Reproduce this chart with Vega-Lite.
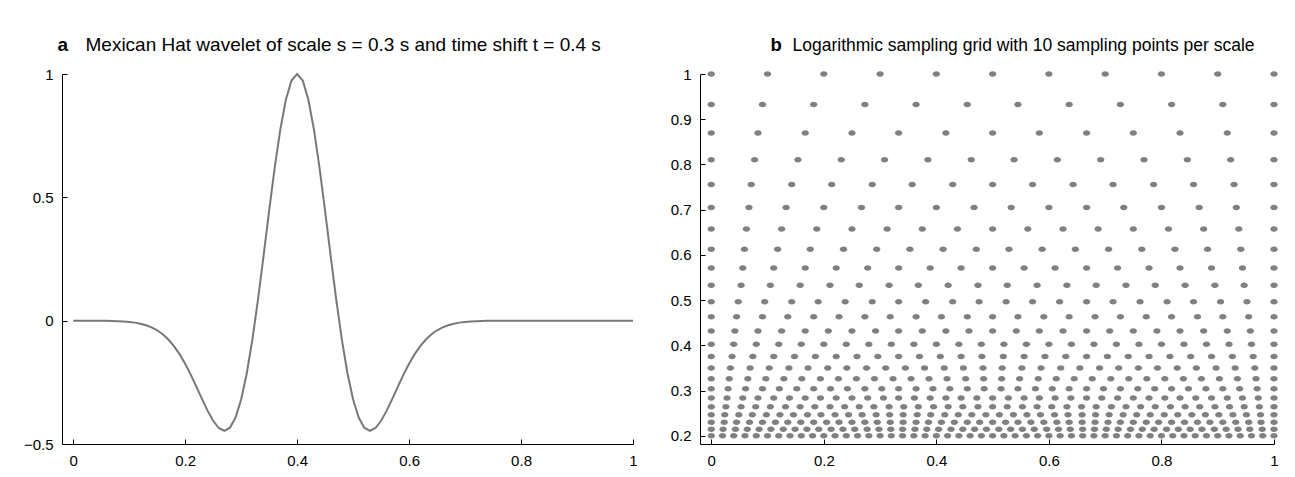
{
"$schema":"https://vega.github.io/schema/vega-lite/v6.json",
"background":"white",
"padding":{"left":23,"top":35,"right":5,"bottom":5},
"spacing":32,
"config":{
"view":{"stroke":null},
"font":"Liberation Sans",
"axis":{"grid":false,"domainColor":"black","domainWidth":1,"tickColor":"black","tickWidth":1,"tickSize":-5,"labelPadding":14,"labelFont":"Liberation Sans","labelFontSize":15,"labelColor":"black","labelFlush":false,"labelOverlap":false,"titleFont":"Liberation Sans","titleFontSize":19,"titleColor":"black","titleBaseline":"alphabetic","titleAlign":"left","titleAngle":0}
},
"hconcat":[
{
"width":571,"height":370,
"data":{"name":"wave"},
"mark":{"type":"line","color":"#787878","strokeWidth":2},
"encoding":{
"x":{"field":"t","type":"quantitative","scale":{"domain":[-0.02,1],"nice":false,"zero":false},"axis":{"values":[0,0.2,0.4,0.6,0.8,1],"format":"~g","title":"Mexican Hat wavelet of scale s = 0.3 s and time shift t = 0.4 s","titleFontWeight":"normal","titleX":23,"titleY":-394}},
"y":{"field":"v","type":"quantitative","scale":{"domain":[-0.5,1],"nice":false,"zero":false},"axis":{"values":[-0.5,0,0.5,1],"format":"~g","title":"a","titleFontWeight":"bold","titleX":-5,"titleY":-24}}
}
},
{
"width":574,"height":370,
"data":{"name":"grid"},
"mark":{"type":"point","filled":true,"color":"#808080","opacity":1,"size":54,"shape":"M-1,0A1,0.75,0,1,0,1,0A1,0.75,0,1,0,-1,0Z"},
"encoding":{
"x":{"field":"x","type":"quantitative","scale":{"domain":[-0.02,1],"nice":false,"zero":false},"axis":{"values":[0,0.2,0.4,0.6,0.8,1],"format":"~g","title":"Logarithmic sampling grid with 10 sampling points per scale","titleFontWeight":"normal","titleFontSize":17.5,"titleX":92,"titleY":-394}},
"y":{"field":"y","type":"quantitative","scale":{"domain":[0.182,1],"nice":false,"zero":false},"axis":{"values":[0.2,0.3,0.4,0.5,0.6,0.7,0.8,0.9,1],"format":"~g","title":"b","titleFontWeight":"bold","titleFontSize":18.5,"titleX":70,"titleY":-24}}
}
}
],
"datasets":{
"wave":[
{"t":0,"v":0},{"t":0.01,"v":0},{"t":0.02,"v":-0.0001},{"t":0.03,"v":-0.0001},{"t":0.04,"v":-0.0002},{"t":0.05,"v":-0.0004},{"t":0.06,"v":-0.0007},{"t":0.07,"v":-0.0012},{"t":0.08,"v":-0.0019},{"t":0.09,"v":-0.0031},
{"t":0.1,"v":-0.005},{"t":0.11,"v":-0.0079},{"t":0.12,"v":-0.0122},{"t":0.13,"v":-0.0184},{"t":0.14,"v":-0.0271},{"t":0.15,"v":-0.0391},{"t":0.16,"v":-0.0553},{"t":0.17,"v":-0.0763},{"t":0.18,"v":-0.103},{"t":0.19,"v":-0.1357},
{"t":0.2,"v":-0.1746},{"t":0.21,"v":-0.2189},{"t":0.22,"v":-0.2672},{"t":0.23,"v":-0.317},{"t":0.24,"v":-0.3648},{"t":0.25,"v":-0.406},{"t":0.26,"v":-0.4351},{"t":0.27,"v":-0.4463},{"t":0.28,"v":-0.4337},{"t":0.29,"v":-0.3926},
{"t":0.3,"v":-0.3198},{"t":0.31,"v":-0.2142},{"t":0.32,"v":-0.078},{"t":0.33,"v":0.0834},{"t":0.34,"v":0.2614},{"t":0.35,"v":0.4449},{"t":0.36,"v":0.6207},{"t":0.37,"v":0.7754},{"t":0.38,"v":0.8964},{"t":0.39,"v":0.9735},
{"t":0.4,"v":1},{"t":0.41,"v":0.9735},{"t":0.42,"v":0.8964},{"t":0.43,"v":0.7754},{"t":0.44,"v":0.6207},{"t":0.45,"v":0.4449},{"t":0.46,"v":0.2614},{"t":0.47,"v":0.0834},{"t":0.48,"v":-0.078},{"t":0.49,"v":-0.2142},
{"t":0.5,"v":-0.3198},{"t":0.51,"v":-0.3926},{"t":0.52,"v":-0.4337},{"t":0.53,"v":-0.4463},{"t":0.54,"v":-0.4351},{"t":0.55,"v":-0.406},{"t":0.56,"v":-0.3648},{"t":0.57,"v":-0.317},{"t":0.58,"v":-0.2672},{"t":0.59,"v":-0.2189},
{"t":0.6,"v":-0.1746},{"t":0.61,"v":-0.1357},{"t":0.62,"v":-0.103},{"t":0.63,"v":-0.0763},{"t":0.64,"v":-0.0553},{"t":0.65,"v":-0.0391},{"t":0.66,"v":-0.0271},{"t":0.67,"v":-0.0184},{"t":0.68,"v":-0.0122},{"t":0.69,"v":-0.0079},
{"t":0.7,"v":-0.005},{"t":0.71,"v":-0.0031},{"t":0.72,"v":-0.0019},{"t":0.73,"v":-0.0012},{"t":0.74,"v":-0.0007},{"t":0.75,"v":-0.0004},{"t":0.76,"v":-0.0002},{"t":0.77,"v":-0.0001},{"t":0.78,"v":-0.0001},{"t":0.79,"v":0},
{"t":0.8,"v":0},{"t":0.81,"v":0},{"t":0.82,"v":0},{"t":0.83,"v":0},{"t":0.84,"v":0},{"t":0.85,"v":0},{"t":0.86,"v":0},{"t":0.87,"v":0},{"t":0.88,"v":0},{"t":0.89,"v":0},
{"t":0.9,"v":0},{"t":0.91,"v":0},{"t":0.92,"v":0},{"t":0.93,"v":0},{"t":0.94,"v":0},{"t":0.95,"v":0},{"t":0.96,"v":0},{"t":0.97,"v":0},{"t":0.98,"v":0},{"t":0.99,"v":0},{"t":1,"v":0}
],
"grid":[
{"x":0,"y":1},{"x":0.1,"y":1},{"x":0.2,"y":1},{"x":0.3,"y":1},{"x":0.4,"y":1},{"x":0.5,"y":1},{"x":0.6,"y":1},{"x":0.7,"y":1},{"x":0.8,"y":1},{"x":0.9,"y":1},{"x":1,"y":1},
{"x":0,"y":0.9324},{"x":0.091,"y":0.9324},{"x":0.182,"y":0.9324},{"x":0.273,"y":0.9324},{"x":0.364,"y":0.9324},{"x":0.455,"y":0.9324},{"x":0.545,"y":0.9324},{"x":0.636,"y":0.9324},{"x":0.727,"y":0.9324},{"x":0.818,"y":0.9324},{"x":0.909,"y":0.9324},{"x":1,"y":0.9324},
{"x":0,"y":0.8694},{"x":0.083,"y":0.8694},{"x":0.167,"y":0.8694},{"x":0.25,"y":0.8694},{"x":0.333,"y":0.8694},{"x":0.417,"y":0.8694},{"x":0.5,"y":0.8694},{"x":0.583,"y":0.8694},{"x":0.667,"y":0.8694},{"x":0.75,"y":0.8694},{"x":0.833,"y":0.8694},{"x":0.917,"y":0.8694},{"x":1,"y":0.8694},
{"x":0,"y":0.8106},{"x":0.077,"y":0.8106},{"x":0.154,"y":0.8106},{"x":0.231,"y":0.8106},{"x":0.308,"y":0.8106},{"x":0.385,"y":0.8106},{"x":0.462,"y":0.8106},{"x":0.538,"y":0.8106},{"x":0.615,"y":0.8106},{"x":0.692,"y":0.8106},{"x":0.769,"y":0.8106},{"x":0.846,"y":0.8106},{"x":0.923,"y":0.8106},{"x":1,"y":0.8106},
{"x":0,"y":0.7559},{"x":0.071,"y":0.7559},{"x":0.143,"y":0.7559},{"x":0.214,"y":0.7559},{"x":0.286,"y":0.7559},{"x":0.357,"y":0.7559},{"x":0.429,"y":0.7559},{"x":0.5,"y":0.7559},{"x":0.571,"y":0.7559},{"x":0.643,"y":0.7559},{"x":0.714,"y":0.7559},{"x":0.786,"y":0.7559},{"x":0.857,"y":0.7559},{"x":0.929,"y":0.7559},{"x":1,"y":0.7559},
{"x":0,"y":0.7048},{"x":0.067,"y":0.7048},{"x":0.133,"y":0.7048},{"x":0.2,"y":0.7048},{"x":0.267,"y":0.7048},{"x":0.333,"y":0.7048},{"x":0.4,"y":0.7048},{"x":0.467,"y":0.7048},{"x":0.533,"y":0.7048},{"x":0.6,"y":0.7048},{"x":0.667,"y":0.7048},{"x":0.733,"y":0.7048},{"x":0.8,"y":0.7048},{"x":0.867,"y":0.7048},{"x":0.933,"y":0.7048},{"x":1,"y":0.7048},
{"x":0,"y":0.6571},{"x":0.0625,"y":0.6571},{"x":0.125,"y":0.6571},{"x":0.1875,"y":0.6571},{"x":0.25,"y":0.6571},{"x":0.3125,"y":0.6571},{"x":0.375,"y":0.6571},{"x":0.4375,"y":0.6571},{"x":0.5,"y":0.6571},{"x":0.5625,"y":0.6571},{"x":0.625,"y":0.6571},{"x":0.6875,"y":0.6571},{"x":0.75,"y":0.6571},{"x":0.8125,"y":0.6571},{"x":0.875,"y":0.6571},{"x":0.9375,"y":0.6571},{"x":1,"y":0.6571},
{"x":0,"y":0.6127},{"x":0.059,"y":0.6127},{"x":0.118,"y":0.6127},{"x":0.176,"y":0.6127},{"x":0.235,"y":0.6127},{"x":0.294,"y":0.6127},{"x":0.353,"y":0.6127},{"x":0.412,"y":0.6127},{"x":0.471,"y":0.6127},{"x":0.529,"y":0.6127},{"x":0.588,"y":0.6127},{"x":0.647,"y":0.6127},{"x":0.706,"y":0.6127},{"x":0.765,"y":0.6127},{"x":0.824,"y":0.6127},{"x":0.882,"y":0.6127},{"x":0.941,"y":0.6127},{"x":1,"y":0.6127},
{"x":0,"y":0.5713},{"x":0.056,"y":0.5713},{"x":0.111,"y":0.5713},{"x":0.167,"y":0.5713},{"x":0.222,"y":0.5713},{"x":0.278,"y":0.5713},{"x":0.333,"y":0.5713},{"x":0.389,"y":0.5713},{"x":0.444,"y":0.5713},{"x":0.5,"y":0.5713},{"x":0.556,"y":0.5713},{"x":0.611,"y":0.5713},{"x":0.667,"y":0.5713},{"x":0.722,"y":0.5713},{"x":0.778,"y":0.5713},{"x":0.833,"y":0.5713},{"x":0.889,"y":0.5713},{"x":0.944,"y":0.5713},{"x":1,"y":0.5713},
{"x":0,"y":0.5327},{"x":0.053,"y":0.5327},{"x":0.105,"y":0.5327},{"x":0.158,"y":0.5327},{"x":0.211,"y":0.5327},{"x":0.263,"y":0.5327},{"x":0.316,"y":0.5327},{"x":0.368,"y":0.5327},{"x":0.421,"y":0.5327},{"x":0.474,"y":0.5327},{"x":0.526,"y":0.5327},{"x":0.579,"y":0.5327},{"x":0.632,"y":0.5327},{"x":0.684,"y":0.5327},{"x":0.737,"y":0.5327},{"x":0.789,"y":0.5327},{"x":0.842,"y":0.5327},{"x":0.895,"y":0.5327},{"x":0.947,"y":0.5327},{"x":1,"y":0.5327},
{"x":0,"y":0.4967},{"x":0.048,"y":0.4967},{"x":0.095,"y":0.4967},{"x":0.143,"y":0.4967},{"x":0.19,"y":0.4967},{"x":0.238,"y":0.4967},{"x":0.286,"y":0.4967},{"x":0.333,"y":0.4967},{"x":0.381,"y":0.4967},{"x":0.429,"y":0.4967},{"x":0.476,"y":0.4967},{"x":0.524,"y":0.4967},{"x":0.571,"y":0.4967},{"x":0.619,"y":0.4967},{"x":0.667,"y":0.4967},{"x":0.714,"y":0.4967},{"x":0.762,"y":0.4967},{"x":0.81,"y":0.4967},{"x":0.857,"y":0.4967},{"x":0.905,"y":0.4967},{"x":0.952,"y":0.4967},{"x":1,"y":0.4967},
{"x":0,"y":0.4631},{"x":0.045,"y":0.4631},{"x":0.091,"y":0.4631},{"x":0.136,"y":0.4631},{"x":0.182,"y":0.4631},{"x":0.227,"y":0.4631},{"x":0.273,"y":0.4631},{"x":0.318,"y":0.4631},{"x":0.364,"y":0.4631},{"x":0.409,"y":0.4631},{"x":0.455,"y":0.4631},{"x":0.5,"y":0.4631},{"x":0.545,"y":0.4631},{"x":0.591,"y":0.4631},{"x":0.636,"y":0.4631},{"x":0.682,"y":0.4631},{"x":0.727,"y":0.4631},{"x":0.773,"y":0.4631},{"x":0.818,"y":0.4631},{"x":0.864,"y":0.4631},{"x":0.909,"y":0.4631},{"x":0.955,"y":0.4631},{"x":1,"y":0.4631},
{"x":0,"y":0.4318},{"x":0.042,"y":0.4318},{"x":0.083,"y":0.4318},{"x":0.125,"y":0.4318},{"x":0.167,"y":0.4318},{"x":0.208,"y":0.4318},{"x":0.25,"y":0.4318},{"x":0.292,"y":0.4318},{"x":0.333,"y":0.4318},{"x":0.375,"y":0.4318},{"x":0.417,"y":0.4318},{"x":0.458,"y":0.4318},{"x":0.5,"y":0.4318},{"x":0.542,"y":0.4318},{"x":0.583,"y":0.4318},{"x":0.625,"y":0.4318},{"x":0.667,"y":0.4318},{"x":0.708,"y":0.4318},{"x":0.75,"y":0.4318},{"x":0.792,"y":0.4318},{"x":0.833,"y":0.4318},{"x":0.875,"y":0.4318},{"x":0.917,"y":0.4318},{"x":0.958,"y":0.4318},{"x":1,"y":0.4318},
{"x":0,"y":0.4027},{"x":0.04,"y":0.4027},{"x":0.08,"y":0.4027},{"x":0.12,"y":0.4027},{"x":0.16,"y":0.4027},{"x":0.2,"y":0.4027},{"x":0.24,"y":0.4027},{"x":0.28,"y":0.4027},{"x":0.32,"y":0.4027},{"x":0.36,"y":0.4027},{"x":0.4,"y":0.4027},{"x":0.44,"y":0.4027},{"x":0.48,"y":0.4027},{"x":0.52,"y":0.4027},{"x":0.56,"y":0.4027},{"x":0.6,"y":0.4027},{"x":0.64,"y":0.4027},{"x":0.68,"y":0.4027},{"x":0.72,"y":0.4027},{"x":0.76,"y":0.4027},{"x":0.8,"y":0.4027},{"x":0.84,"y":0.4027},{"x":0.88,"y":0.4027},{"x":0.92,"y":0.4027},{"x":0.96,"y":0.4027},{"x":1,"y":0.4027},
{"x":0,"y":0.3754},{"x":0.037,"y":0.3754},{"x":0.074,"y":0.3754},{"x":0.111,"y":0.3754},{"x":0.148,"y":0.3754},{"x":0.185,"y":0.3754},{"x":0.222,"y":0.3754},{"x":0.259,"y":0.3754},{"x":0.296,"y":0.3754},{"x":0.333,"y":0.3754},{"x":0.37,"y":0.3754},{"x":0.407,"y":0.3754},{"x":0.444,"y":0.3754},{"x":0.481,"y":0.3754},{"x":0.519,"y":0.3754},{"x":0.556,"y":0.3754},{"x":0.593,"y":0.3754},{"x":0.63,"y":0.3754},{"x":0.667,"y":0.3754},{"x":0.704,"y":0.3754},{"x":0.741,"y":0.3754},{"x":0.778,"y":0.3754},{"x":0.815,"y":0.3754},{"x":0.852,"y":0.3754},{"x":0.889,"y":0.3754},{"x":0.926,"y":0.3754},{"x":0.963,"y":0.3754},{"x":1,"y":0.3754},
{"x":0,"y":0.3501},{"x":0.034,"y":0.3501},{"x":0.069,"y":0.3501},{"x":0.103,"y":0.3501},{"x":0.138,"y":0.3501},{"x":0.172,"y":0.3501},{"x":0.207,"y":0.3501},{"x":0.241,"y":0.3501},{"x":0.276,"y":0.3501},{"x":0.31,"y":0.3501},{"x":0.345,"y":0.3501},{"x":0.379,"y":0.3501},{"x":0.414,"y":0.3501},{"x":0.448,"y":0.3501},{"x":0.483,"y":0.3501},{"x":0.517,"y":0.3501},{"x":0.552,"y":0.3501},{"x":0.586,"y":0.3501},{"x":0.621,"y":0.3501},{"x":0.655,"y":0.3501},{"x":0.69,"y":0.3501},{"x":0.724,"y":0.3501},{"x":0.759,"y":0.3501},{"x":0.793,"y":0.3501},{"x":0.828,"y":0.3501},{"x":0.862,"y":0.3501},{"x":0.897,"y":0.3501},{"x":0.931,"y":0.3501},{"x":0.966,"y":0.3501},{"x":1,"y":0.3501},
{"x":0,"y":0.3264},{"x":0.032,"y":0.3264},{"x":0.065,"y":0.3264},{"x":0.097,"y":0.3264},{"x":0.129,"y":0.3264},{"x":0.161,"y":0.3264},{"x":0.194,"y":0.3264},{"x":0.226,"y":0.3264},{"x":0.258,"y":0.3264},{"x":0.29,"y":0.3264},{"x":0.323,"y":0.3264},{"x":0.355,"y":0.3264},{"x":0.387,"y":0.3264},{"x":0.419,"y":0.3264},{"x":0.452,"y":0.3264},{"x":0.484,"y":0.3264},{"x":0.516,"y":0.3264},{"x":0.548,"y":0.3264},{"x":0.581,"y":0.3264},{"x":0.613,"y":0.3264},{"x":0.645,"y":0.3264},{"x":0.677,"y":0.3264},{"x":0.71,"y":0.3264},{"x":0.742,"y":0.3264},{"x":0.774,"y":0.3264},{"x":0.806,"y":0.3264},{"x":0.839,"y":0.3264},{"x":0.871,"y":0.3264},{"x":0.903,"y":0.3264},{"x":0.935,"y":0.3264},{"x":0.968,"y":0.3264},{"x":1,"y":0.3264},
{"x":0,"y":0.3043},{"x":0.03,"y":0.3043},{"x":0.061,"y":0.3043},{"x":0.091,"y":0.3043},{"x":0.121,"y":0.3043},{"x":0.152,"y":0.3043},{"x":0.182,"y":0.3043},{"x":0.212,"y":0.3043},{"x":0.242,"y":0.3043},{"x":0.273,"y":0.3043},{"x":0.303,"y":0.3043},{"x":0.333,"y":0.3043},{"x":0.364,"y":0.3043},{"x":0.394,"y":0.3043},{"x":0.424,"y":0.3043},{"x":0.455,"y":0.3043},{"x":0.485,"y":0.3043},{"x":0.515,"y":0.3043},{"x":0.545,"y":0.3043},{"x":0.576,"y":0.3043},{"x":0.606,"y":0.3043},{"x":0.636,"y":0.3043},{"x":0.667,"y":0.3043},{"x":0.697,"y":0.3043},{"x":0.727,"y":0.3043},{"x":0.758,"y":0.3043},{"x":0.788,"y":0.3043},{"x":0.818,"y":0.3043},{"x":0.848,"y":0.3043},{"x":0.879,"y":0.3043},{"x":0.909,"y":0.3043},{"x":0.939,"y":0.3043},{"x":0.97,"y":0.3043},{"x":1,"y":0.3043},
{"x":0,"y":0.2838},{"x":0.028,"y":0.2838},{"x":0.056,"y":0.2838},{"x":0.083,"y":0.2838},{"x":0.111,"y":0.2838},{"x":0.139,"y":0.2838},{"x":0.167,"y":0.2838},{"x":0.194,"y":0.2838},{"x":0.222,"y":0.2838},{"x":0.25,"y":0.2838},{"x":0.278,"y":0.2838},{"x":0.306,"y":0.2838},{"x":0.333,"y":0.2838},{"x":0.361,"y":0.2838},{"x":0.389,"y":0.2838},{"x":0.417,"y":0.2838},{"x":0.444,"y":0.2838},{"x":0.472,"y":0.2838},{"x":0.5,"y":0.2838},{"x":0.528,"y":0.2838},{"x":0.556,"y":0.2838},{"x":0.583,"y":0.2838},{"x":0.611,"y":0.2838},{"x":0.639,"y":0.2838},{"x":0.667,"y":0.2838},{"x":0.694,"y":0.2838},{"x":0.722,"y":0.2838},{"x":0.75,"y":0.2838},{"x":0.778,"y":0.2838},{"x":0.806,"y":0.2838},{"x":0.833,"y":0.2838},{"x":0.861,"y":0.2838},{"x":0.889,"y":0.2838},{"x":0.917,"y":0.2838},{"x":0.944,"y":0.2838},{"x":0.972,"y":0.2838},{"x":1,"y":0.2838},
{"x":0,"y":0.2646},{"x":0.026,"y":0.2646},{"x":0.053,"y":0.2646},{"x":0.079,"y":0.2646},{"x":0.105,"y":0.2646},{"x":0.132,"y":0.2646},{"x":0.158,"y":0.2646},{"x":0.184,"y":0.2646},{"x":0.211,"y":0.2646},{"x":0.237,"y":0.2646},{"x":0.263,"y":0.2646},{"x":0.289,"y":0.2646},{"x":0.316,"y":0.2646},{"x":0.342,"y":0.2646},{"x":0.368,"y":0.2646},{"x":0.395,"y":0.2646},{"x":0.421,"y":0.2646},{"x":0.447,"y":0.2646},{"x":0.474,"y":0.2646},{"x":0.5,"y":0.2646},{"x":0.526,"y":0.2646},{"x":0.553,"y":0.2646},{"x":0.579,"y":0.2646},{"x":0.605,"y":0.2646},{"x":0.632,"y":0.2646},{"x":0.658,"y":0.2646},{"x":0.684,"y":0.2646},{"x":0.711,"y":0.2646},{"x":0.737,"y":0.2646},{"x":0.763,"y":0.2646},{"x":0.789,"y":0.2646},{"x":0.816,"y":0.2646},{"x":0.842,"y":0.2646},{"x":0.868,"y":0.2646},{"x":0.895,"y":0.2646},{"x":0.921,"y":0.2646},{"x":0.947,"y":0.2646},{"x":0.974,"y":0.2646},{"x":1,"y":0.2646},
{"x":0,"y":0.2467},{"x":0.024,"y":0.2467},{"x":0.049,"y":0.2467},{"x":0.073,"y":0.2467},{"x":0.098,"y":0.2467},{"x":0.122,"y":0.2467},{"x":0.146,"y":0.2467},{"x":0.171,"y":0.2467},{"x":0.195,"y":0.2467},{"x":0.22,"y":0.2467},{"x":0.244,"y":0.2467},{"x":0.268,"y":0.2467},{"x":0.293,"y":0.2467},{"x":0.317,"y":0.2467},{"x":0.341,"y":0.2467},{"x":0.366,"y":0.2467},{"x":0.39,"y":0.2467},{"x":0.415,"y":0.2467},{"x":0.439,"y":0.2467},{"x":0.463,"y":0.2467},{"x":0.488,"y":0.2467},{"x":0.512,"y":0.2467},{"x":0.537,"y":0.2467},{"x":0.561,"y":0.2467},{"x":0.585,"y":0.2467},{"x":0.61,"y":0.2467},{"x":0.634,"y":0.2467},{"x":0.659,"y":0.2467},{"x":0.683,"y":0.2467},{"x":0.707,"y":0.2467},{"x":0.732,"y":0.2467},{"x":0.756,"y":0.2467},{"x":0.78,"y":0.2467},{"x":0.805,"y":0.2467},{"x":0.829,"y":0.2467},{"x":0.854,"y":0.2467},{"x":0.878,"y":0.2467},{"x":0.902,"y":0.2467},{"x":0.927,"y":0.2467},{"x":0.951,"y":0.2467},{"x":0.976,"y":0.2467},{"x":1,"y":0.2467},
{"x":0,"y":0.23},{"x":0.023,"y":0.23},{"x":0.045,"y":0.23},{"x":0.068,"y":0.23},{"x":0.091,"y":0.23},{"x":0.114,"y":0.23},{"x":0.136,"y":0.23},{"x":0.159,"y":0.23},{"x":0.182,"y":0.23},{"x":0.205,"y":0.23},{"x":0.227,"y":0.23},{"x":0.25,"y":0.23},{"x":0.273,"y":0.23},{"x":0.295,"y":0.23},{"x":0.318,"y":0.23},{"x":0.341,"y":0.23},{"x":0.364,"y":0.23},{"x":0.386,"y":0.23},{"x":0.409,"y":0.23},{"x":0.432,"y":0.23},{"x":0.455,"y":0.23},{"x":0.477,"y":0.23},{"x":0.5,"y":0.23},{"x":0.523,"y":0.23},{"x":0.545,"y":0.23},{"x":0.568,"y":0.23},{"x":0.591,"y":0.23},{"x":0.614,"y":0.23},{"x":0.636,"y":0.23},{"x":0.659,"y":0.23},{"x":0.682,"y":0.23},{"x":0.705,"y":0.23},{"x":0.727,"y":0.23},{"x":0.75,"y":0.23},{"x":0.773,"y":0.23},{"x":0.795,"y":0.23},{"x":0.818,"y":0.23},{"x":0.841,"y":0.23},{"x":0.864,"y":0.23},{"x":0.886,"y":0.23},{"x":0.909,"y":0.23},{"x":0.932,"y":0.23},{"x":0.955,"y":0.23},{"x":0.977,"y":0.23},{"x":1,"y":0.23},
{"x":0,"y":0.2145},{"x":0.021,"y":0.2145},{"x":0.043,"y":0.2145},{"x":0.064,"y":0.2145},{"x":0.085,"y":0.2145},{"x":0.106,"y":0.2145},{"x":0.128,"y":0.2145},{"x":0.149,"y":0.2145},{"x":0.17,"y":0.2145},{"x":0.191,"y":0.2145},{"x":0.213,"y":0.2145},{"x":0.234,"y":0.2145},{"x":0.255,"y":0.2145},{"x":0.277,"y":0.2145},{"x":0.298,"y":0.2145},{"x":0.319,"y":0.2145},{"x":0.34,"y":0.2145},{"x":0.362,"y":0.2145},{"x":0.383,"y":0.2145},{"x":0.404,"y":0.2145},{"x":0.426,"y":0.2145},{"x":0.447,"y":0.2145},{"x":0.468,"y":0.2145},{"x":0.489,"y":0.2145},{"x":0.511,"y":0.2145},{"x":0.532,"y":0.2145},{"x":0.553,"y":0.2145},{"x":0.574,"y":0.2145},{"x":0.596,"y":0.2145},{"x":0.617,"y":0.2145},{"x":0.638,"y":0.2145},{"x":0.66,"y":0.2145},{"x":0.681,"y":0.2145},{"x":0.702,"y":0.2145},{"x":0.723,"y":0.2145},{"x":0.745,"y":0.2145},{"x":0.766,"y":0.2145},{"x":0.787,"y":0.2145},{"x":0.809,"y":0.2145},{"x":0.83,"y":0.2145},{"x":0.851,"y":0.2145},{"x":0.872,"y":0.2145},{"x":0.894,"y":0.2145},{"x":0.915,"y":0.2145},{"x":0.936,"y":0.2145},{"x":0.957,"y":0.2145},{"x":0.979,"y":0.2145},{"x":1,"y":0.2145},
{"x":0,"y":0.2},{"x":0.02,"y":0.2},{"x":0.04,"y":0.2},{"x":0.06,"y":0.2},{"x":0.08,"y":0.2},{"x":0.1,"y":0.2},{"x":0.12,"y":0.2},{"x":0.14,"y":0.2},{"x":0.16,"y":0.2},{"x":0.18,"y":0.2},{"x":0.2,"y":0.2},{"x":0.22,"y":0.2},{"x":0.24,"y":0.2},{"x":0.26,"y":0.2},{"x":0.28,"y":0.2},{"x":0.3,"y":0.2},{"x":0.32,"y":0.2},{"x":0.34,"y":0.2},{"x":0.36,"y":0.2},{"x":0.38,"y":0.2},{"x":0.4,"y":0.2},{"x":0.42,"y":0.2},{"x":0.44,"y":0.2},{"x":0.46,"y":0.2},{"x":0.48,"y":0.2},{"x":0.5,"y":0.2},{"x":0.52,"y":0.2},{"x":0.54,"y":0.2},{"x":0.56,"y":0.2},{"x":0.58,"y":0.2},{"x":0.6,"y":0.2},{"x":0.62,"y":0.2},{"x":0.64,"y":0.2},{"x":0.66,"y":0.2},{"x":0.68,"y":0.2},{"x":0.7,"y":0.2},{"x":0.72,"y":0.2},{"x":0.74,"y":0.2},{"x":0.76,"y":0.2},{"x":0.78,"y":0.2},{"x":0.8,"y":0.2},{"x":0.82,"y":0.2},{"x":0.84,"y":0.2},{"x":0.86,"y":0.2},{"x":0.88,"y":0.2},{"x":0.9,"y":0.2},{"x":0.92,"y":0.2},{"x":0.94,"y":0.2},{"x":0.96,"y":0.2},{"x":0.98,"y":0.2},{"x":1,"y":0.2}
]
}
}
